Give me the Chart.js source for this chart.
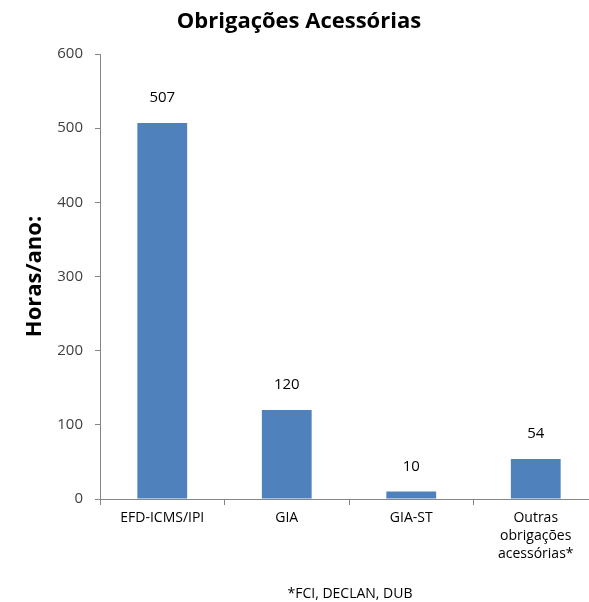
<!DOCTYPE html>
<html>
<head>
<meta charset="utf-8">
<script src="https://cdn.jsdelivr.net/npm/chart.js@4/dist/chart.umd.min.js"></script>
<style>
html, body { margin: 0; padding: 0; background: #fff; overflow: hidden; }
#wrap { width: 598px; height: 602px; position: relative; }
</style>
</head>
<body>
<div id="wrap"><canvas id="chart"></canvas></div>
<script>
const categories = [['EFD-ICMS/IPI'], ['GIA'], ['GIA-ST'], ['Outras', 'obrigações', 'acessórias*']];
const hours = [507, 120, 10, 54];
const yMin = 0, yMax = 600, yStep = 100;
const chartTitle = 'Obrigações Acessórias';
const yTitle = 'Horas/ano:';
const footnote = '*FCI, DECLAN, DUB';

const axisColor = '#868686';
const font = "'Open Sans', sans-serif";

// value labels above the bars and the footnote under the axis
const extras = {
    id: 'extras',
    afterDatasetsDraw(chart) {
        const ctx = chart.ctx;
        ctx.save();
        ctx.font = '15px ' + font;
        ctx.fillStyle = '#000';
        ctx.textAlign = 'center';
        ctx.textBaseline = 'middle';
        chart.getDatasetMeta(0).data.forEach((bar, i) => {
            ctx.fillText(String(hours[i]), bar.x, bar.y - 25);
        });
        const a = chart.chartArea;
        ctx.font = '14px ' + font;
        ctx.fillText(footnote, (a.left + a.right) / 2 + 1, 594);
        ctx.restore();
    }
};

new Chart(document.getElementById('chart'), {
    type: 'bar',
    data: {
        labels: categories,
        datasets: [{
            data: hours,
            backgroundColor: '#4F81BD',
            borderWidth: 0,
            categoryPercentage: 1,
            barPercentage: 0.4
        }]
    },
    options: {
        responsive: true,
        maintainAspectRatio: false,
        animation: false,
        layout: { padding: 0 },
        plugins: {
            legend: { display: false },
            tooltip: { enabled: false },
            title: {
                display: true,
                text: chartTitle,
                color: '#000',
                font: { family: font, size: 22, weight: 'bold', lineHeight: 1.2 },
                padding: { top: 9, bottom: 18.6 }
            }
        },
        scales: {
            x: {
                border: { color: axisColor, width: 1 },
                grid: { display: true, drawOnChartArea: false, offset: true, tickLength: 6, color: axisColor },
                ticks: { color: '#000', font: { family: font, size: 14, lineHeight: 1.3 }, padding: 4, maxRotation: 0, autoSkip: false },
                afterFit(scale) { scale.height = 103; }
            },
            y: {
                min: yMin,
                max: yMax,
                border: { color: axisColor, width: 1 },
                grid: { display: true, drawOnChartArea: false, tickLength: 5, color: axisColor },
                ticks: { stepSize: yStep, color: '#404040', font: { family: font, size: 15 }, padding: 12 },
                title: {
                    display: true,
                    text: yTitle,
                    color: '#000',
                    font: { family: font, size: 22, weight: 'bold', lineHeight: 1.2 },
                    padding: { top: 22, bottom: 0 }
                },
                afterFit(scale) { scale.width = 100; }
            }
        }
    },
    plugins: [extras]
});
</script>
</body>
</html>
